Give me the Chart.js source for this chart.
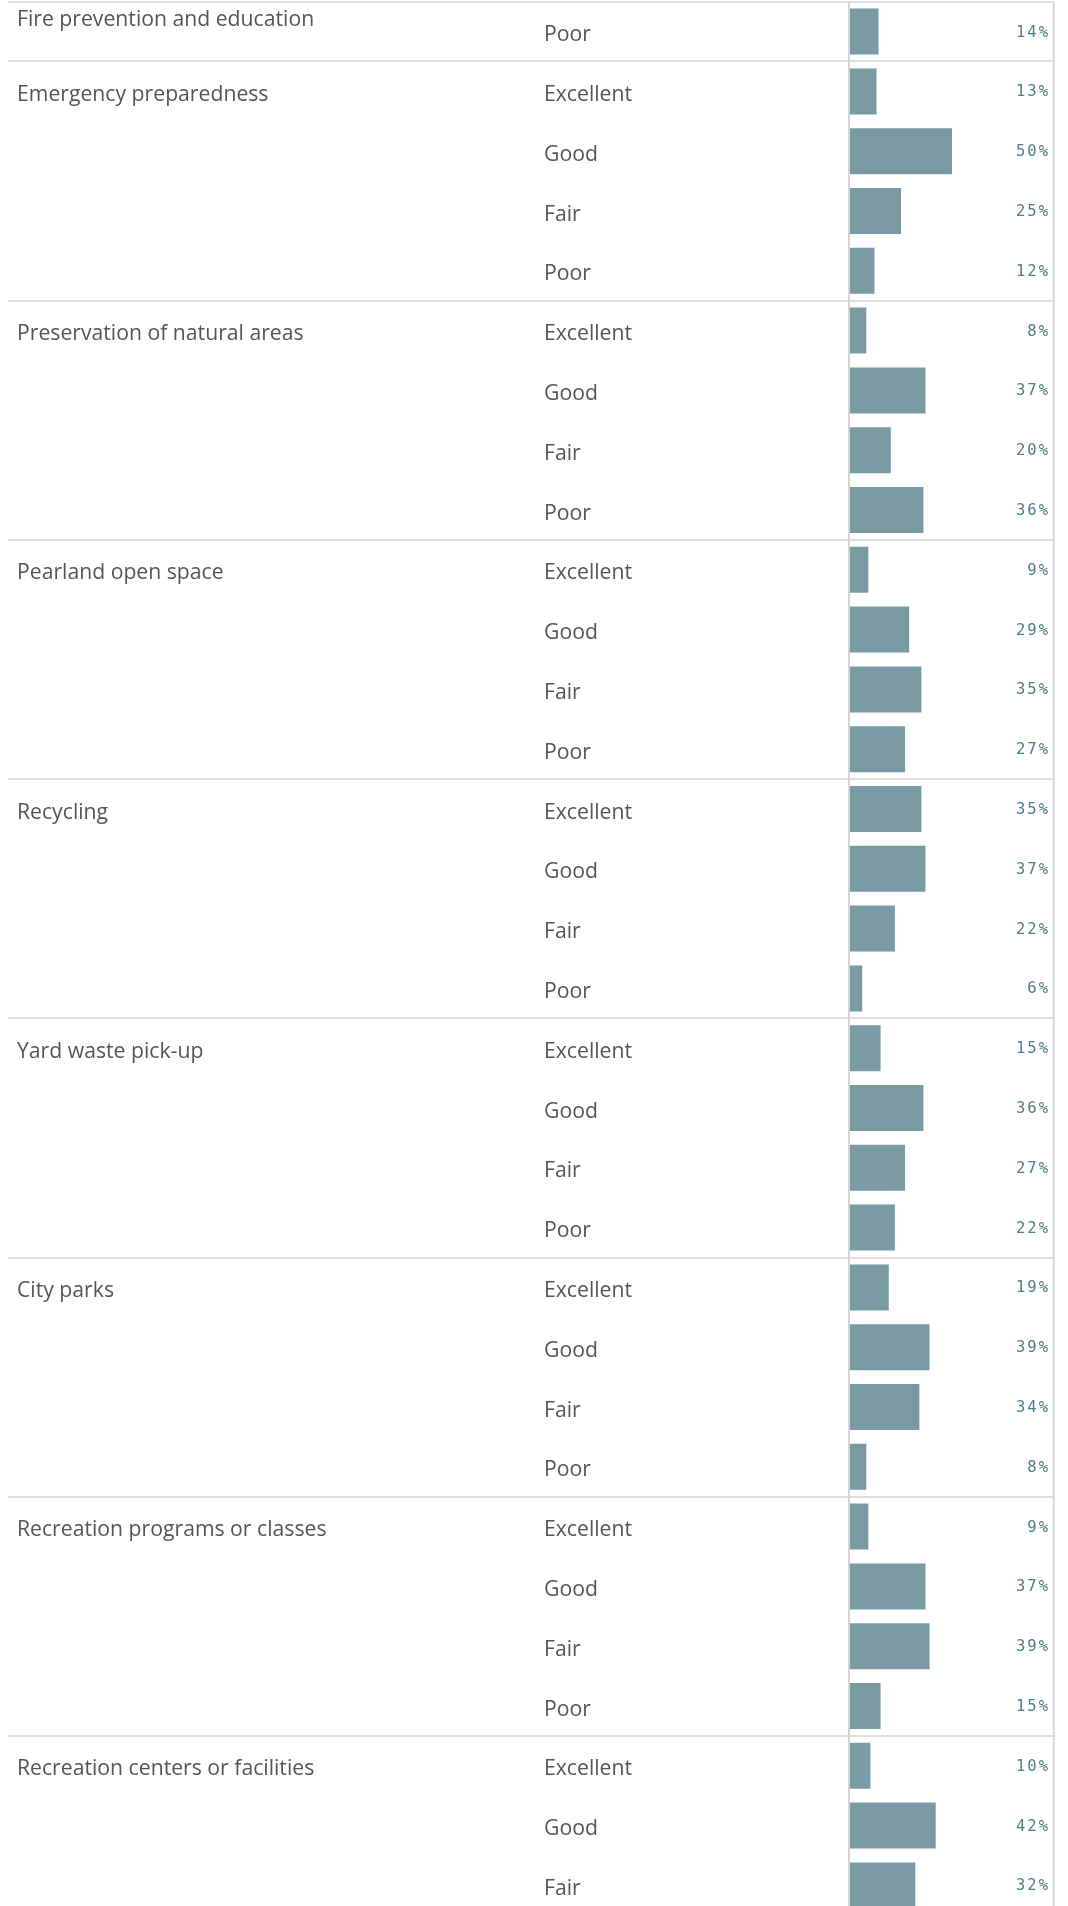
<!DOCTYPE html>
<html>
<head>
<meta charset="utf-8">
<script src="https://cdn.jsdelivr.net/npm/chart.js@4.4.1/dist/chart.umd.min.js"></script>
<style>
  html, body { margin: 0; padding: 0; background: #ffffff; overflow: hidden; }
  #wrap { position: relative; width: 1068px; height: 1930px; }
</style>
</head>
<body>
<div id="wrap"><canvas id="c" width="1068" height="1930"></canvas></div>
<script>
// ---- data ----
const groups = [
  "Fire prevention and education",
  "Emergency preparedness",
  "Preservation of natural areas",
  "Pearland open space",
  "Recycling",
  "Yard waste pick-up",
  "City parks",
  "Recreation programs or classes",
  "Recreation centers or facilities"
];
const ratings = ["Excellent", "Good", "Fair", "Poor"];
const fireRatings = ["Poor"];        // only "Poor" of the first group is visible
// percentages per group, in rating order (only the visible rows)
const vFire       = [14];
const vEmergency  = [13, 50, 25, 12];
const vNatural    = [8, 37, 20, 36];
const vOpenSpace  = [9, 29, 35, 27];
const vRecycling  = [35, 37, 22, 6];
const vYard       = [15, 36, 27, 22];
const vParks      = [19, 39, 34, 8];
const vPrograms   = [9, 37, 39, 15];
const vCenters    = [10, 42, 32];    // "Poor" is below the visible area

// ---- build rows ----
const groupValues = [vFire, vEmergency, vNatural, vOpenSpace, vRecycling, vYard, vParks, vPrograms, vCenters];
const rowLabels = [], rowGroup = [], rowRating = [], rowValue = [], rowFirst = [];
groupValues.forEach((vals, g) => {
  const rs = g === 0 ? fireRatings : ratings.slice(0, vals.length);
  vals.forEach((v, i) => {
    rowLabels.push(groups[g] + " | " + rs[i]);
    rowGroup.push(g);
    rowRating.push(rs[i]);
    rowValue.push(v);
    rowFirst.push(i === 0);
  });
});

const textFont = '21.2px "Open Sans", "Noto Sans", sans-serif';
const pctFont = '15.5px "DejaVu Sans Mono", monospace';

const tablePlugin = {
  id: 'tablePlugin',
  beforeDatasetsDraw(chart) {
    const ctx = chart.ctx;
    const y = chart.scales.y;
    const x = chart.scales.x;
    const area = chart.chartArea;
    ctx.save();
    ctx.fillStyle = '#dedede';
    ctx.fillRect(8, Math.round(area.top) - 1, area.right - 8, 2);
    for (let i = 1; i < rowLabels.length; i++) {
      if (rowGroup[i] !== rowGroup[i - 1]) {
        const yy = (y.getPixelForValue(i - 1) + y.getPixelForValue(i)) / 2;
        ctx.fillRect(8, Math.round(yy) - 1, area.right - 8, 2);
      }
    }
    ctx.fillStyle = '#d4d4d4';
    const x0 = x.getPixelForValue(0);
    ctx.fillRect(x0 - 2, area.top, 2, area.bottom - area.top);
    ctx.fillStyle = '#d0d0d0';
    ctx.fillRect(area.right - 1, area.top, 1.5, area.bottom - area.top);
    ctx.restore();
  },
  afterDatasetsDraw(chart) {
    const ctx = chart.ctx;
    const y = chart.scales.y;
    const area = chart.chartArea;
    ctx.save();
    ctx.textBaseline = 'alphabetic';
    for (let i = 0; i < rowLabels.length; i++) {
      const cy = y.getPixelForValue(i);
      ctx.font = textFont;
      ctx.fillStyle = '#555555';
      ctx.textAlign = 'left';
      if (i === 0) {
        ctx.fillText(groups[rowGroup[i]], 17, area.top + 24.5);
      } else if (rowFirst[i]) {
        ctx.fillText(groups[rowGroup[i]], 17, cy + 9.5);
      }
      ctx.fillText(rowRating[i], 544, cy + 9.5);
      ctx.font = pctFont;
      ctx.fillStyle = '#4f7e8a';
      ctx.textAlign = 'right';
      ctx.letterSpacing = '2px';
      ctx.fillText(rowValue[i] + '%', area.right - 4, cy + 5);
      ctx.letterSpacing = '0px';
    }
    ctx.restore();
  }
};

new Chart(document.getElementById('c'), {
  type: 'bar',
  data: {
    labels: rowLabels,
    datasets: [{
      data: rowValue,
      backgroundColor: '#7a9aa3',
      borderWidth: 0,
      categoryPercentage: 1.0,
      barPercentage: 46 / 59.8
    }]
  },
  options: {
    indexAxis: 'y',
    responsive: false,
    animation: false,
    devicePixelRatio: 1,
    layout: { padding: { left: 850, right: 14, top: 1.7, bottom: 14.7 } },
    plugins: { legend: { display: false }, tooltip: { enabled: false } },
    scales: {
      x: { display: false, min: 0, max: 100 },
      y: { display: false, offset: true, grid: { display: false } }
    }
  },
  plugins: [tablePlugin]
});
</script>
</body>
</html>
